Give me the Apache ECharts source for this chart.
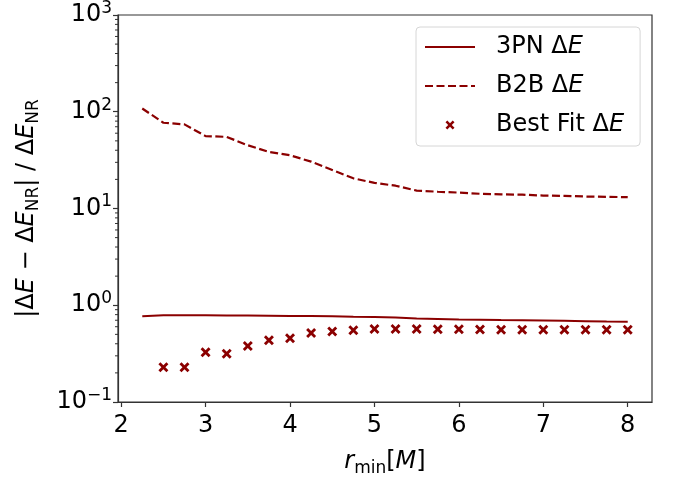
<!DOCTYPE html>
<html>
<head>
<meta charset="utf-8">
<script src="https://cdn.jsdelivr.net/npm/echarts@6/dist/echarts.min.js"></script>
<style>html,body{margin:0;padding:0;background:#fff}#c{width:673px;height:482px}</style>
</head>
<body>
<div id="c"></div>
<script>
const rMin = [2.25,2.5,2.75,3,3.25,3.5,3.75,4,4.25,4.5,4.75,5,5.25,5.5,5.75,6,6.25,6.5,6.75,7,7.25,7.5,7.75,8];
const pn3 = [0.77,0.79,0.79,0.79,0.785,0.785,0.78,0.775,0.775,0.77,0.76,0.755,0.745,0.728,0.72,0.712,0.708,0.703,0.70,0.695,0.69,0.685,0.68,0.677];
const b2b = [108,77,74,56,55,45,38.5,35.5,30.5,25,20.5,18.4,17.2,15.3,14.9,14.6,14.2,14.0,13.9,13.6,13.5,13.3,13.2,13.1];
const rMinFit = [2.5,2.75,3,3.25,3.5,3.75,4,4.25,4.5,4.75,5,5.25,5.5,5.75,6,6.25,6.5,6.75,7,7.25,7.5,7.75,8];
const bestFit = [0.229,0.229,0.326,0.316,0.379,0.434,0.455,0.516,0.537,0.55,0.568,0.568,0.568,0.565,0.565,0.56,0.558,0.558,0.558,0.558,0.558,0.558,0.558];
const xTicks = [2,3,4,5,6,7,8];
const yMinorTicks = [0.2,0.3,0.4,0.5,0.6,0.7,0.8,0.9,2,3,4,5,6,7,8,9,20,30,40,50,60,70,80,90,200,300,400,500,600,700,800,900];

const RED = '#8B0000';
const FONT = 'DejaVu Sans';
const FS = 24;
const xSym = 'path://M0,2L2,0L5,3L8,0L10,2L7,5L10,8L8,10L5,7L2,10L0,8L3,5Z';

const supExp = v => {
  const e = Math.round(Math.log10(v));
  return '10{sup|' + (e < 0 ? '\u2212' + (-e) : e) + '}';
};

const chart = echarts.init(document.getElementById('c'), null, {renderer: 'canvas'});
chart.setOption({
  animation: false,
  backgroundColor: '#fff',
  textStyle: {fontFamily: FONT},
  grid: {left: 118, right: 21, top: 15, bottom: 79, show: true, borderColor: '#333', borderWidth: 1.2, containLabel: false},
  legend: {
    orient: 'vertical', left: 416, top: 27,
    padding: [5, 16, 6, 8], itemGap: 9,
    itemWidth: 50, itemHeight: 9,
    backgroundColor: 'rgba(255,255,255,0.8)', borderColor: '#d6d6d6', borderWidth: 1, borderRadius: 4,
    data: [{name: '3PN', itemStyle: {opacity: 0}}, {name: 'B2B', itemStyle: {opacity: 0}}, {name: 'Best Fit'}],
    formatter: n => n + ' Δ{i|E}',
    textStyle: {fontFamily: FONT, fontSize: FS, color: '#000', lineHeight: 30, padding: [0,0,0,16],
      rich: {i: {fontStyle: 'italic', fontSize: FS, fontFamily: FONT, lineHeight: 30}}}
  },
  xAxis: {
    type: 'value', min: 1.9625, max: 8.2875,
    name: '{i|r}{sub|min}[{i|M}]', nameLocation: 'middle', nameGap: 45,
    nameTextStyle: {fontFamily: FONT, fontSize: FS, color: '#000', lineHeight: 30,
      rich: {i: {fontStyle: 'italic', fontSize: FS, lineHeight: 30}, sub: {fontSize: 17, lineHeight: 17, verticalAlign: 'bottom'}}},
    axisLine: {show: true, lineStyle: {color: '#333', width: 1.2}},
    axisTick: {show: true, length: 5, customValues: xTicks, lineStyle: {color: '#333', width: 1.2}},
    axisLabel: {customValues: xTicks, fontFamily: FONT, fontSize: FS, color: '#000', margin: 12},
    splitLine: {show: false}
  },
  yAxis: {
    type: 'log', logBase: 10, min: 0.1, max: 1000,
    name: '|Δ{i|E} \u2212 Δ{i|E}{sub|NR}| / Δ{i|E}{sub|NR}', nameLocation: 'middle', nameGap: 76, nameRotate: 90,
    nameTextStyle: {fontFamily: FONT, fontSize: FS, color: '#000', lineHeight: 30,
      rich: {i: {fontStyle: 'italic', fontSize: FS, lineHeight: 30}, sub: {fontSize: 17, lineHeight: 17, verticalAlign: 'bottom'}}},
    axisLine: {show: true, lineStyle: {color: '#333', width: 1.2}},
    axisTick: {show: true, length: 5, lineStyle: {color: '#333', width: 1.2}},
    axisLabel: {fontFamily: FONT, fontSize: FS, color: '#000', margin: 6, lineHeight: 30,
      formatter: v => supExp(v),
      rich: {sup: {fontSize: 17, lineHeight: 14, verticalAlign: 'top'}}},
    splitLine: {show: false}
  },
  series: [
    {name: '3PN', type: 'line', data: rMin.map((x, i) => [x, pn3[i]]), symbol: 'none',
      lineStyle: {color: RED, width: 2}, itemStyle: {color: RED}},
    {name: 'B2B', type: 'line', data: rMin.map((x, i) => [x, b2b[i]]), symbol: 'none',
      lineStyle: {color: RED, width: 2.2, type: [8, 3.5]}, itemStyle: {color: RED}},
    {name: 'Best Fit', type: 'scatter', data: rMinFit.map((x, i) => [x, bestFit[i]]),
      symbol: xSym, symbolSize: 10, itemStyle: {color: RED, opacity: 1}},
    {name: 'minor', type: 'custom', silent: true, clip: false,
      data: yMinorTicks.map(v => [2, v]),
      renderItem: (params, api) => {
        const y = api.coord([api.value(0), api.value(1)])[1];
        const x = params.coordSys.x;
        return {type: 'line', shape: {x1: x - 3, y1: y, x2: x, y2: y}, style: {stroke: '#333', lineWidth: 1}};
      }}
  ]
});
</script>
</body>
</html>
